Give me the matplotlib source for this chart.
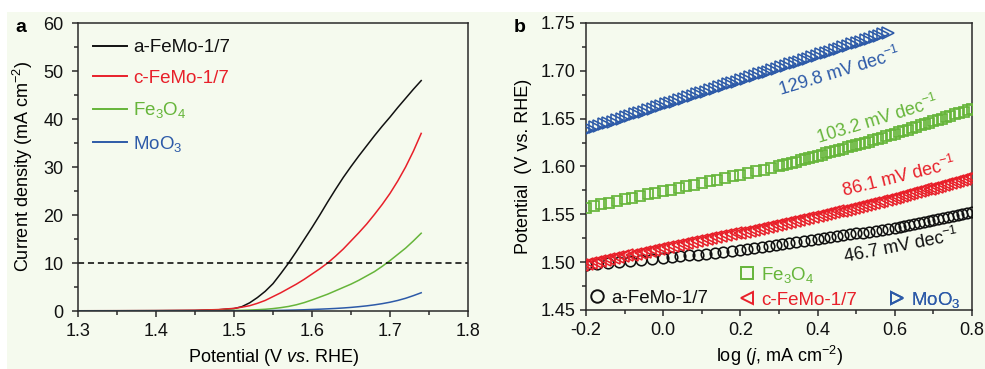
import matplotlib
matplotlib.use("Agg")
import matplotlib.pyplot as plt
from matplotlib.lines import Line2D
from matplotlib.patches import Rectangle
from matplotlib.ticker import MultipleLocator, FormatStrFormatter

plt.rcParams['font.family'] = ['Liberation Sans', 'DejaVu Sans']
plt.rcParams['mathtext.fontset'] = 'custom'
plt.rcParams['mathtext.rm'] = 'Liberation Sans'
plt.rcParams['mathtext.it'] = 'Liberation Sans:italic'
plt.rcParams['mathtext.bf'] = 'Liberation Sans:bold'
plt.rcParams['axes.unicode_minus'] = True

# ---------------- Panel a: polarisation curves ----------------
volt_a = [1.30, 1.35, 1.40, 1.45, 1.48, 1.50, 1.51, 1.52, 1.53, 1.54, 1.55, 1.56,
          1.57, 1.58, 1.59, 1.60, 1.61, 1.62, 1.63, 1.64, 1.65, 1.66, 1.67, 1.68,
          1.69, 1.70, 1.71, 1.72, 1.73, 1.74]
j_afemo = [0.05, 0.06, 0.08, 0.12, 0.25, 0.5, 0.9, 1.7, 2.8, 4.1, 5.7, 7.8,
           10.0, 12.4, 14.9, 17.4, 20.0, 22.7, 25.3, 27.8, 30.1, 32.3, 34.4, 36.5,
           38.5, 40.4, 42.4, 44.3, 46.2, 48.0]
j_cfemo = [0.05, 0.06, 0.08, 0.15, 0.3, 0.55, 0.8, 1.1, 1.6, 2.2, 3.0, 3.8,
           4.7, 5.6, 6.6, 7.7, 8.8, 10.0, 11.4, 12.9, 14.6, 16.3, 18.1, 20.1,
           22.2, 24.5, 27.1, 30.0, 33.3, 37.0]
j_fe3o4 = [0.0, 0.02, 0.03, 0.05, 0.08, 0.12, 0.15, 0.2, 0.27, 0.36, 0.5, 0.7,
           0.95, 1.3, 1.75, 2.3, 2.9, 3.5, 4.2, 4.9, 5.6, 6.4, 7.3, 8.2,
           9.3, 10.5, 11.8, 13.1, 14.6, 16.2]
j_moo3 = [0.0, 0.0, 0.0, 0.01, 0.01, 0.02, 0.03, 0.04, 0.06, 0.08, 0.1, 0.13,
          0.17, 0.21, 0.26, 0.32, 0.38, 0.45, 0.53, 0.63, 0.75, 0.9, 1.07, 1.28,
          1.53, 1.83, 2.2, 2.65, 3.2, 3.8]
ref_current = 10

# ---------------- Panel b: Tafel plots ----------------
afemo_logj = [-0.200, -0.171, -0.143, -0.114, -0.086, -0.057, -0.029, 0.000,
              0.022, 0.044, 0.067, 0.089, 0.111, 0.133, 0.156, 0.178, 0.200,
              0.218, 0.236, 0.255, 0.273, 0.291, 0.309, 0.327, 0.345, 0.364, 0.382, 0.400,
              0.417, 0.433, 0.450, 0.467, 0.483, 0.500, 0.517, 0.533, 0.550, 0.567, 0.583, 0.600,
              0.6125, 0.625, 0.6375, 0.650, 0.6625, 0.675, 0.6875, 0.700, 0.7125, 0.725,
              0.7375, 0.750, 0.7625, 0.775, 0.7875, 0.800]
afemo_mV = [1497, 1498, 1499, 1500, 1501, 1502, 1503, 1504, 1505, 1506, 1507, 1508,
            1509, 1510, 1511, 1512, 1513, 1514, 1515, 1516, 1517, 1518, 1519, 1520,
            1521, 1522, 1523, 1524, 1525, 1526, 1527, 1528, 1529, 1530, 1531, 1532,
            1533, 1534, 1535, 1536, 1537, 1538, 1539, 1540, 1541, 1542, 1543, 1544,
            1545, 1546, 1547, 1548, 1549, 1550, 1551, 1552]

cfemo_logj = [-0.210, -0.198, -0.187, -0.175, -0.163, -0.152, -0.140, -0.128, -0.117,
              -0.105, -0.093, -0.082, -0.070, -0.058, -0.047, -0.035, -0.023, -0.012, 0.000,
              0.0125, 0.025, 0.0375, 0.050, 0.0625, 0.075, 0.0875, 0.100, 0.1125, 0.125,
              0.1375, 0.150, 0.1625, 0.175, 0.1875, 0.200,
              0.212, 0.224, 0.235, 0.247, 0.259, 0.271, 0.282, 0.294, 0.306, 0.318, 0.329,
              0.341, 0.353, 0.365, 0.376, 0.388, 0.400,
              0.411, 0.421, 0.432, 0.442, 0.453, 0.463, 0.474, 0.484, 0.495, 0.505, 0.516,
              0.526, 0.537, 0.547, 0.558, 0.568, 0.579, 0.589, 0.600,
              0.609, 0.618, 0.627, 0.636, 0.645, 0.655, 0.664, 0.673, 0.682, 0.691, 0.700,
              0.709, 0.718, 0.727, 0.736, 0.745, 0.755, 0.764, 0.773, 0.782, 0.791, 0.800]
cfemo_mV = [1497, 1498, 1499, 1500, 1501, 1502, 1503, 1504, 1505, 1506, 1507, 1508,
            1509, 1510, 1511, 1512, 1513, 1514, 1515, 1516, 1517, 1518, 1519, 1520,
            1521, 1522, 1523, 1524, 1525, 1526, 1527, 1528, 1529, 1530, 1531, 1532,
            1533, 1534, 1535, 1536, 1537, 1538, 1539, 1540, 1541, 1542, 1543, 1544,
            1545, 1546, 1547, 1548, 1549, 1550, 1551, 1552, 1553, 1554, 1555, 1556,
            1557, 1558, 1559, 1560, 1561, 1562, 1563, 1564, 1565, 1566, 1567, 1568,
            1569, 1570, 1571, 1572, 1573, 1574, 1575, 1576, 1577, 1578, 1579, 1580,
            1581, 1582, 1583, 1584, 1585, 1586, 1587, 1588, 1589]

fe3o4_logj = [-0.20, -0.18, -0.16, -0.14, -0.12, -0.10, -0.08, -0.06, -0.04, -0.02,
              0.00, 0.02, 0.04, 0.06, 0.08, 0.10, 0.12, 0.14, 0.16, 0.18, 0.20, 0.22,
              0.24, 0.26, 0.28, 0.30,
              0.311, 0.322, 0.333, 0.344, 0.356, 0.367, 0.378, 0.389, 0.400,
              0.411, 0.422, 0.433, 0.444, 0.456, 0.467, 0.478, 0.489, 0.500,
              0.511, 0.522, 0.533, 0.544, 0.556, 0.567, 0.578, 0.589, 0.600,
              0.611, 0.622, 0.633, 0.644, 0.656, 0.667, 0.678, 0.689, 0.700,
              0.711, 0.722, 0.733, 0.744, 0.756, 0.767, 0.778, 0.789, 0.800]
fe3o4_V = [1.5570, 1.5587, 1.5604, 1.5622, 1.5639, 1.5656, 1.5673, 1.5690, 1.5708, 1.5725,
           1.5742, 1.5759, 1.5776, 1.5794, 1.5811, 1.5828, 1.5845, 1.5862, 1.5880, 1.5897,
           1.5914, 1.5931, 1.5948, 1.5966, 1.5983, 1.6000,
           1.6012, 1.6025, 1.6037, 1.6049, 1.6063, 1.6075, 1.6087, 1.6100, 1.6112,
           1.6124, 1.6137, 1.6149, 1.6161, 1.6175, 1.6187, 1.6199, 1.6212, 1.6224,
           1.6236, 1.6249, 1.6261, 1.6273, 1.6288, 1.6302, 1.6316, 1.6330, 1.6344,
           1.6358, 1.6372, 1.6386, 1.6400, 1.6416, 1.6430, 1.6444, 1.6458, 1.6472,
           1.6486, 1.6500, 1.6514, 1.6528, 1.6544, 1.6558, 1.6572, 1.6586, 1.6600]

moo3_logj = [-0.2000, -0.1885, -0.1770, -0.1655, -0.1540, -0.1425, -0.1310, -0.1195,
             -0.1080, -0.0965, -0.0850, -0.0735, -0.0620, -0.0505, -0.0390, -0.0275,
             -0.0160, -0.0045, 0.0070, 0.0185, 0.0300, 0.0415, 0.0530, 0.0645, 0.0760,
             0.0875, 0.0990, 0.1105, 0.1220, 0.1335, 0.1450, 0.1565, 0.1680, 0.1795,
             0.1910, 0.2025, 0.2140, 0.2255, 0.2370, 0.2485, 0.2600, 0.2715, 0.2830,
             0.2945, 0.3060, 0.3175, 0.3290, 0.3405, 0.3520, 0.3635, 0.3750, 0.3865,
             0.3980, 0.4095, 0.4210, 0.4325, 0.4440, 0.4555, 0.4670, 0.4785, 0.4900,
             0.5015, 0.5130, 0.5245, 0.5360, 0.5475, 0.5590, 0.5705, 0.5820]
moo3_V = [1.6380, 1.6395, 1.6410, 1.6425, 1.6440, 1.6455, 1.6470, 1.6484, 1.6499,
          1.6514, 1.6529, 1.6544, 1.6559, 1.6574, 1.6589, 1.6604, 1.6619, 1.6634,
          1.6649, 1.6664, 1.6679, 1.6693, 1.6708, 1.6723, 1.6738, 1.6753, 1.6768,
          1.6783, 1.6798, 1.6813, 1.6828, 1.6843, 1.6858, 1.6873, 1.6888, 1.6903,
          1.6917, 1.6932, 1.6947, 1.6962, 1.6977, 1.6992, 1.7007, 1.7022, 1.7037,
          1.7052, 1.7067, 1.7082, 1.7097, 1.7112, 1.7127, 1.7141, 1.7156, 1.7171,
          1.7186, 1.7201, 1.7216, 1.7231, 1.7246, 1.7261, 1.7276, 1.7291, 1.7306,
          1.7321, 1.7335, 1.7350, 1.7365, 1.7380, 1.7395]

labels = ['a-FeMo-1/7', 'c-FeMo-1/7', r'Fe$_3$O$_4$', r'MoO$_3$']
slopes = ['46.7', '86.1', '103.2', '129.8']

C_BLACK = '#111111'
C_RED = '#e8202a'
C_GREEN = '#66b53a'
C_BLUE = '#2d5aa8'
BG = '#f5faee'
SPINE = '#2a2a2a'
FS = 13

fig = plt.figure(figsize=(9.85, 3.69), dpi=100, facecolor=BG)
fig.patches.append(Rectangle((0, 1 - 12 / 369), 1, 12 / 369, transform=fig.transFigure,
                             facecolor='white', edgecolor='none', zorder=-10))
fig.patches.append(Rectangle((0, 0), 7 / 985, 1, transform=fig.transFigure,
                             facecolor='white', edgecolor='none', zorder=-10))

axa = fig.add_axes([78 / 985, 1 - 311 / 369, 390 / 985, 288 / 369])
axb = fig.add_axes([586 / 985, 1 - 310 / 369, 386 / 985, 287 / 369])

for ax in (axa, axb):
    ax.set_facecolor(BG)
    for s in ax.spines.values():
        s.set_color(SPINE)
        s.set_linewidth(1.1)
    ax.tick_params(which='both', direction='out', top=False, right=False,
                   color=SPINE, width=1.1, labelsize=FS, labelcolor='#111111')
    ax.tick_params(which='major', length=4.5)
    ax.tick_params(which='minor', length=2.8)

# ---- Panel a ----
axa.plot(volt_a, j_afemo, color=C_BLACK, lw=1.1, label=labels[0])
axa.plot(volt_a, j_cfemo, color=C_RED, lw=1.1, label=labels[1])
axa.plot(volt_a, j_fe3o4, color=C_GREEN, lw=1.1, label=labels[2])
axa.plot(volt_a, j_moo3, color=C_BLUE, lw=1.1, label=labels[3])
axa.axhline(ref_current, color='black', lw=1.1, ls=(0, (4, 2.5)))
axa.set_xlim(1.3, 1.8)
axa.set_ylim(0, 60)
axa.xaxis.set_major_locator(MultipleLocator(0.1))
axa.xaxis.set_minor_locator(MultipleLocator(0.05))
axa.yaxis.set_major_locator(MultipleLocator(10))
axa.yaxis.set_minor_locator(MultipleLocator(5))
axa.xaxis.set_major_formatter(FormatStrFormatter('%.1f'))
axa.tick_params(axis='x', pad=4)
axa.tick_params(axis='y', pad=6)
axa.set_xlabel(r'Potential (V $\it{vs}$. RHE)', fontsize=FS, labelpad=5)
axa.set_ylabel(r'Current density (mA cm$^{-2}$)', fontsize=FS, labelpad=6)
lega = axa.legend(loc='upper left', bbox_to_anchor=(93 / 985, 1 - 39 / 369),
                  bbox_transform=fig.transFigure, frameon=False, fontsize=13.5,
                  handlelength=1.8, handletextpad=0.35, borderpad=0, borderaxespad=0,
                  labelspacing=0.72, labelcolor='linecolor')
for ln in lega.get_lines():
    ln.set_linewidth(1.4)

# ---- Panel b ----
axb.plot(afemo_logj, [v / 1000 for v in afemo_mV], ls='none', marker='o', ms=7.6,
         mfc='none', mec=C_BLACK, mew=1.15, zorder=3)
axb.plot(cfemo_logj, [v / 1000 for v in cfemo_mV], ls='none', marker='<', ms=8.0,
         mfc='none', mec=C_RED, mew=1.15, zorder=3)
axb.plot(fe3o4_logj, fe3o4_V, ls='none', marker='s', ms=6.8,
         mfc='none', mec=C_GREEN, mew=1.25, zorder=3)
axb.plot(moo3_logj, moo3_V, ls='none', marker='>', ms=8.0,
         mfc='none', mec=C_BLUE, mew=1.15, zorder=3)
axb.set_xlim(-0.2, 0.8)
axb.set_ylim(1.45, 1.75)
axb.xaxis.set_major_locator(MultipleLocator(0.2))
axb.xaxis.set_minor_locator(MultipleLocator(0.1))
axb.yaxis.set_major_locator(MultipleLocator(0.05))
axb.yaxis.set_minor_locator(MultipleLocator(0.025))
axb.xaxis.set_major_formatter(FormatStrFormatter('%.1f'))
axb.yaxis.set_major_formatter(FormatStrFormatter('%.2f'))
axb.tick_params(axis='x', pad=4)
axb.tick_params(axis='y', pad=3)
axb.set_xlabel(r'log ($\it{j}$, mA cm$^{-2}$)', fontsize=FS, labelpad=4)
axb.set_ylabel('Potential  (V vs. RHE)', fontsize=FS, labelpad=6)

axb.text(0.457, 1.699, slopes[3] + r' mV dec$^{-1}$', color=C_BLUE, fontsize=FS,
         rotation=17, ha='center', va='center', rotation_mode='anchor')
axb.text(0.554, 1.6486, slopes[2] + r' mV dec$^{-1}$', color=C_GREEN, fontsize=FS,
         rotation=17, ha='center', va='center', rotation_mode='anchor')
axb.text(0.611, 1.589, slopes[1] + r' mV dec$^{-1}$', color=C_RED, fontsize=FS,
         rotation=14, ha='center', va='center', rotation_mode='anchor')
axb.text(0.616, 1.517, slopes[0] + r' mV dec$^{-1}$', color=C_BLACK, fontsize=FS,
         rotation=11, ha='center', va='center', rotation_mode='anchor')

leg_specs = [
    (labels[0], 'o', C_BLACK, 588, 298),
    (labels[2], 's', C_GREEN, 738, 275),
    (labels[1], '<', C_RED, 738, 300),
    (labels[3], '>', C_BLUE, 888, 300),
]
for lab, mk, col, px, py in leg_specs:
    h = Line2D([], [], ls='none', marker=mk, ms=9, mfc='none', mec=col, mew=1.4)
    lg = axb.legend([h], [lab], loc='center left', bbox_to_anchor=(px / 985, 1 - py / 369),
                    bbox_transform=fig.transFigure, frameon=False, fontsize=13.5,
                    handlelength=1.0, handletextpad=0.25, borderpad=0, borderaxespad=0,
                    labelcolor=col)
    axb.add_artist(lg)

fig.text(15 / 985, 1 - 32 / 369, 'a', fontsize=14, fontweight='bold', va='baseline')
fig.text(514 / 985, 1 - 32 / 369, 'b', fontsize=14, fontweight='bold', va='baseline')

fig.savefig('out.png', dpi=100, facecolor=BG)
